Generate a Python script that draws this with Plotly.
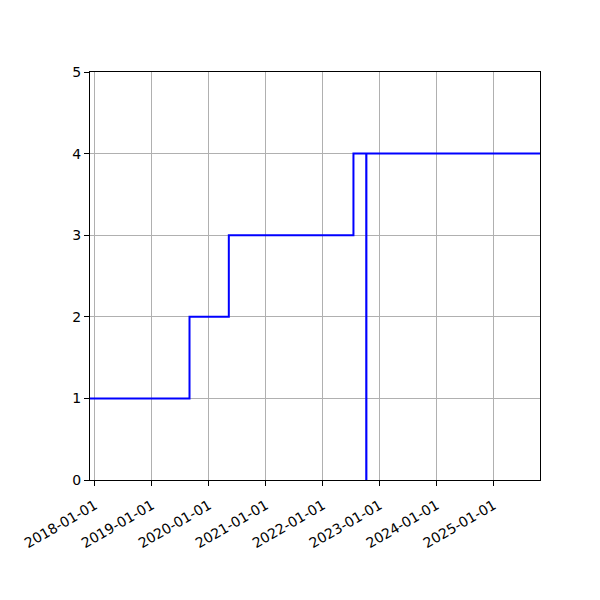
import plotly.graph_objects as go

dates = ["2017-11-30", "2019-08-30", "2020-05-08", "2022-07-16", "2022-10-06", "2022-10-07", "2025-10-24"]
values = [1, 2, 3, 4, 0, 4, 4]
tick_dates = ["2018-01-01", "2019-01-01", "2020-01-01", "2021-01-01", "2022-01-01",
              "2023-01-01", "2024-01-01", "2025-01-01"]
y_ticks = [0, 1, 2, 3, 4, 5]

fig = go.Figure()
fig.add_trace(go.Scatter(x=dates, y=values, mode="lines", line_shape="hv",
                         line=dict(color="#0000ff", width=2), showlegend=False))

axis_common = dict(showline=True, linecolor="black", linewidth=1, mirror=True,
                   showgrid=True, gridcolor="#b0b0b0", gridwidth=1,
                   ticks="outside", ticklen=5, tickwidth=1, tickcolor="black",
                   zeroline=False, tickfont=dict(family="DejaVu Sans", size=14, color="black"))

fig.update_xaxes(range=[dates[0], dates[-1]], tickvals=tick_dates, ticktext=tick_dates,
                 tickangle=-30, ticklabelstandoff=6, **axis_common)
fig.update_yaxes(range=[0, 5], tickvals=y_ticks, **axis_common)

fig.update_layout(width=600, height=600, plot_bgcolor="white", paper_bgcolor="white",
                  margin=dict(l=82, r=68, t=64, b=128))

fig.write_html("out.html")
